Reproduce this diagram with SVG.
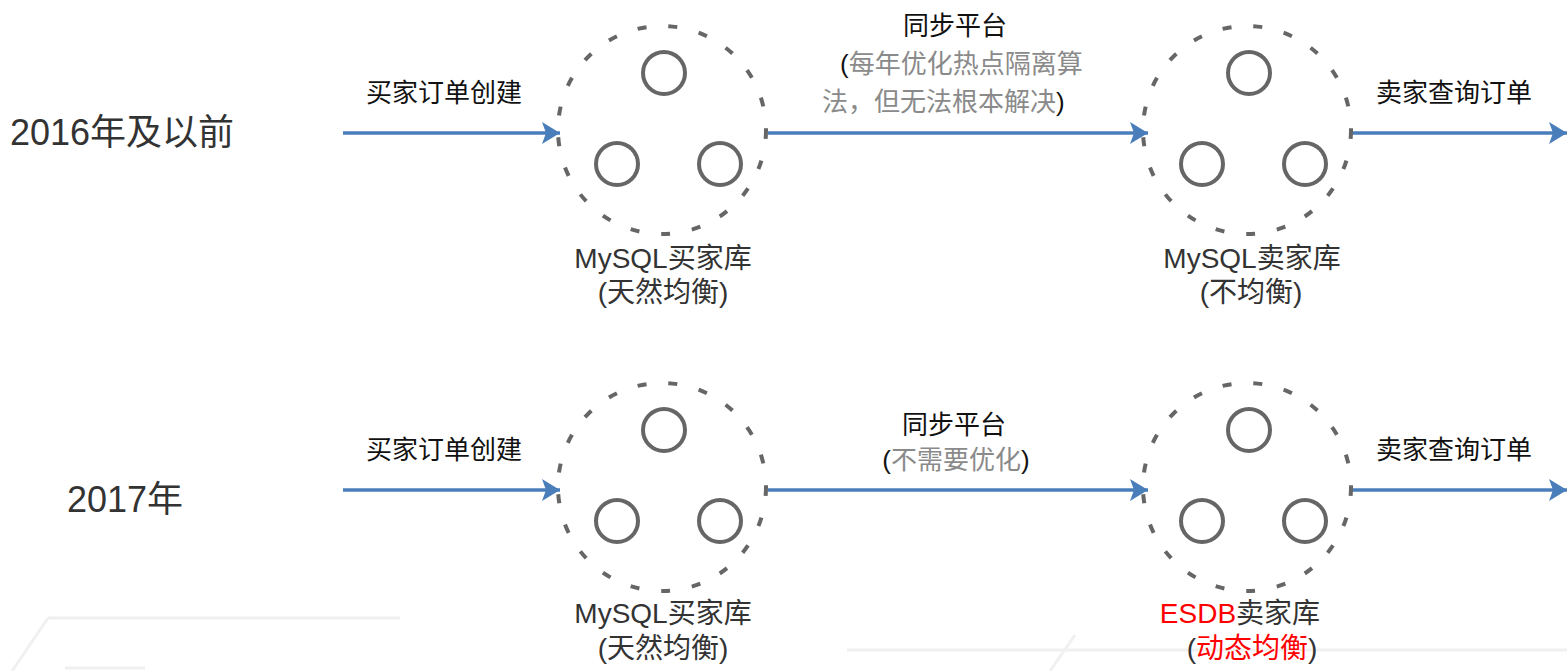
<svg xmlns="http://www.w3.org/2000/svg" width="1567" height="671" viewBox="0 0 1567 671">
<style>
text{font-family:"Liberation Sans","Noto Sans CJK SC",sans-serif;fill:#222}
.yr{font-size:36px;fill:#333}
.lb{font-size:26px;fill:#111}
.db{font-size:28px;fill:#333;text-anchor:middle}
.mid{text-anchor:middle}
.gray{fill:#8a8a8a}
.red{fill:#ff0000}
.ring{fill:none;stroke:#666;stroke-width:4;stroke-dasharray:9 22}
.node{fill:none;stroke:#666;stroke-width:4}
.arr{fill:none;stroke:#4a7ebb;stroke-width:3.5;marker-end:url(#ah)}
.bg{fill:none;stroke:#f0f0f0;stroke-width:3}
</style>
<defs>
<marker id="ah" markerUnits="userSpaceOnUse" markerWidth="20" markerHeight="24" refX="18" refY="11" orient="auto">
<path d="M0,0 L18,11 L0,22 L4,11 Z" fill="#4a7ebb"/>
</marker>
<g id="cluster">
<circle class="ring" cx="0" cy="0" r="104"/>
<circle class="node" cx="2" cy="-57" r="21"/>
<circle class="node" cx="-45" cy="34" r="21"/>
<circle class="node" cx="58" cy="34" r="21"/>
</g>
</defs>
<rect width="1567" height="671" fill="#fff"/>
<g id="background">
<path class="bg" d="M48,618 L400,618 M48,618 L12,671 M65,668 L145,668"/>
<path class="bg" d="M847,650 L1567,650 M1050,671 L1075,635"/>
</g>
<g id="row-labels">
<text class="yr" x="10" y="145">2016年及以前</text>
<text class="yr" x="67" y="512">2017年</text>
</g>
<g id="connectors">
<line class="arr" x1="343" y1="133" x2="560" y2="133"/>
<line class="arr" x1="768" y1="133" x2="1148" y2="133"/>
<line class="arr" x1="1352" y1="133" x2="1567" y2="133"/>
<line class="arr" x1="343" y1="490" x2="560" y2="490"/>
<line class="arr" x1="768" y1="490" x2="1148" y2="490"/>
<line class="arr" x1="1352" y1="490" x2="1567" y2="490"/>
<text class="lb mid" x="444" y="102">买家订单创建</text>
<text class="lb mid" x="955" y="35">同步平台</text>
<text class="lb" x="840" y="73">(<tspan class="gray">每年优化热点隔离算</tspan></text>
<text class="lb" x="822" y="111"><tspan class="gray">法，但无法根本解决</tspan>)</text>
<text class="lb mid" x="1454" y="102">卖家查询订单</text>
<text class="lb mid" x="444" y="459">买家订单创建</text>
<text class="lb mid" x="954" y="434">同步平台</text>
<text class="lb mid" x="956" y="469">(<tspan class="gray">不需要优化</tspan>)</text>
<text class="lb mid" x="1454" y="459">卖家查询订单</text>
</g>
<g id="mysql-buyer-2016">
<use href="#cluster" x="662" y="130"/>
<text class="db" x="663" y="268">MySQL买家库</text>
<text class="db" x="663" y="302">(天然均衡)</text>
</g>
<g id="mysql-seller-2016">
<use href="#cluster" x="1247" y="130"/>
<text class="db" x="1252" y="268">MySQL卖家库</text>
<text class="db" x="1251" y="302">(不均衡)</text>
</g>
<g id="mysql-buyer-2017">
<use href="#cluster" x="662" y="487"/>
<text class="db" x="663" y="623">MySQL买家库</text>
<text class="db" x="663" y="658">(天然均衡)</text>
</g>
<g id="esdb-seller-2017">
<use href="#cluster" x="1247" y="487"/>
<text class="db" x="1240" y="623"><tspan class="red">ESDB</tspan>卖家库</text>
<text class="db" x="1252" y="658">(<tspan class="red">动态均衡</tspan>)</text>
</g>
</svg>
